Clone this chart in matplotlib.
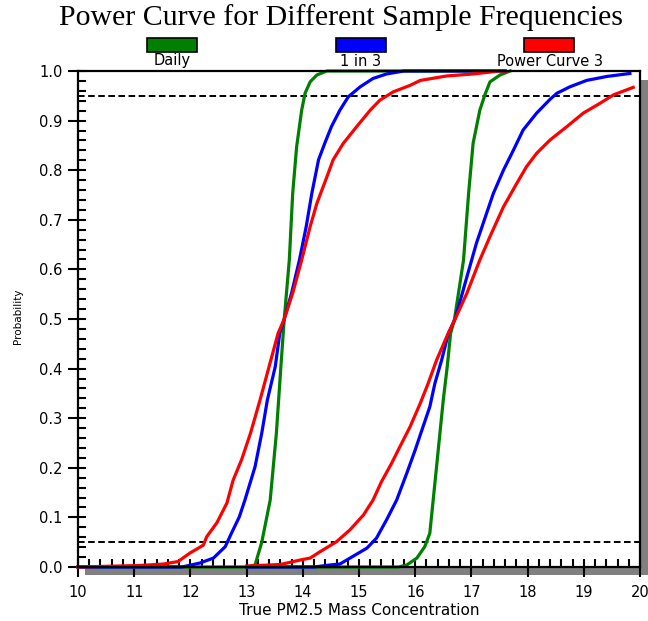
import matplotlib.pyplot as plt
from matplotlib.patches import Rectangle
from matplotlib.ticker import MultipleLocator

# Daily sampling - two curves (low and high true concentration)
daily_x1 = [10.0, 13.0, 13.15, 13.27, 13.42, 13.53, 13.61, 13.67, 13.76, 13.82, 13.89, 13.98,
            14.04, 14.13, 14.25, 14.43, 17.6]
daily_y1 = [0.0, 0.0, 0.004, 0.05, 0.135, 0.27, 0.404, 0.5, 0.619, 0.753, 0.847, 0.921,
            0.955, 0.978, 0.992, 1.0, 1.0]
daily_x2 = [13.0, 15.7, 15.85, 16.03, 16.17, 16.26, 16.32, 16.38, 16.44, 16.50, 16.57, 16.63,
            16.70, 16.86, 16.95, 17.03, 17.15, 17.24, 17.33, 17.51, 17.69]
daily_y2 = [0.0, 0.0, 0.004, 0.018, 0.041, 0.068, 0.135, 0.202, 0.27, 0.337, 0.404, 0.471,
            0.5, 0.619, 0.753, 0.854, 0.921, 0.952, 0.978, 0.992, 1.0]

# 1 in 3 day sampling
one3_x1 = [10.0, 11.85, 12.17, 12.41, 12.62, 12.73, 12.87, 12.97, 13.15, 13.27, 13.37, 13.51,
           13.59, 13.67, 13.80, 13.94, 14.06, 14.16, 14.28, 14.39, 14.51, 14.66, 14.81, 15.02,
           15.25, 15.49, 15.8, 17.6]
one3_y1 = [0.0, 0.0, 0.008, 0.018, 0.041, 0.068, 0.101, 0.135, 0.202, 0.27, 0.337, 0.404,
           0.471, 0.5, 0.552, 0.619, 0.686, 0.753, 0.821, 0.854, 0.888, 0.921, 0.948, 0.968,
           0.985, 0.994, 1.0, 1.0]
one3_x2 = [13.0, 14.2, 14.48, 14.66, 14.84, 15.14, 15.31, 15.49, 15.67, 15.85, 16.0, 16.14,
           16.26, 16.35, 16.47, 16.59, 16.71, 16.92, 17.09, 17.27, 17.39, 17.57, 17.75, 17.92,
           18.16, 18.40, 18.52, 18.75, 19.05, 19.41, 19.82]
one3_y2 = [0.0, 0.0, 0.004, 0.006, 0.018, 0.038, 0.058, 0.095, 0.135, 0.189, 0.236, 0.283,
           0.323, 0.37, 0.417, 0.471, 0.5, 0.585, 0.653, 0.713, 0.753, 0.80, 0.841, 0.881,
           0.915, 0.943, 0.955, 0.968, 0.981, 0.989, 0.995]

# Power curve 3
pc3_x1 = [10.0, 11.1, 11.52, 11.78, 11.99, 12.23, 12.29, 12.47, 12.65, 12.76, 12.91, 13.07,
          13.24, 13.40, 13.56, 13.67, 13.82, 13.98, 14.13, 14.25, 14.43, 14.54, 14.72, 14.96,
          15.20, 15.37, 15.61, 15.91, 16.09, 16.56, 17.03, 17.5, 17.6]
pc3_y1 = [0.0, 0.003, 0.006, 0.011, 0.028, 0.044, 0.061, 0.089, 0.129, 0.175, 0.216, 0.27,
          0.337, 0.404, 0.471, 0.5, 0.552, 0.619, 0.686, 0.733, 0.787, 0.821, 0.854, 0.888,
          0.921, 0.941, 0.958, 0.971, 0.981, 0.99, 0.994, 1.0, 1.0]
pc3_x2 = [13.0, 13.6, 13.95, 14.13, 14.31, 14.60, 14.84, 15.08, 15.25, 15.40, 15.58, 15.73,
          15.91, 16.09, 16.23, 16.38, 16.56, 16.71, 16.92, 17.15, 17.33, 17.57, 17.81, 17.98,
          18.16, 18.40, 18.70, 18.99, 19.29, 19.53, 19.88]
pc3_y2 = [0.002, 0.005, 0.014, 0.018, 0.031, 0.051, 0.075, 0.105, 0.135, 0.172, 0.209, 0.243,
          0.283, 0.33, 0.37, 0.417, 0.464, 0.5, 0.552, 0.619, 0.666, 0.726, 0.774, 0.807,
          0.834, 0.861, 0.888, 0.915, 0.935, 0.952, 0.967]

labels = ['Daily', '1 in 3', 'Power Curve 3']
colors = ['#008000', '#0000ff', '#ff0000']
limits = [0.05, 0.95]

W, H = 648, 621
fig = plt.figure(figsize=(W / 100, H / 100), dpi=100)
ax = fig.add_axes([78 / W, 1 - 567 / H, 562 / W, 496 / H])

# drop shadow behind the plot area
shadow = Rectangle((85 / W, 1 - 575 / H), 570 / W, 495 / H, transform=fig.transFigure,
                   facecolor='#808080', edgecolor='none', zorder=-1)
fig.add_artist(shadow)

curves = [(daily_x1, daily_y1, daily_x2, daily_y2),
          (one3_x1, one3_y1, one3_x2, one3_y2),
          (pc3_x1, pc3_y1, pc3_x2, pc3_y2)]
for (x1, y1, x2, y2), c in zip(curves, colors):
    ax.plot(x1, y1, color=c, lw=2.3, solid_joinstyle='round', zorder=3, clip_on=False)
    ax.plot(x2, y2, color=c, lw=2.3, solid_joinstyle='round', zorder=3, clip_on=False)

for lev in limits:
    ax.axhline(lev, color='black', lw=1.4, linestyle=(0, (3.4, 1.8)), zorder=2)

ax.set_xlim(10, 20)
ax.set_ylim(0, 1)
ax.xaxis.set_major_locator(MultipleLocator(1))
ax.xaxis.set_minor_locator(MultipleLocator(0.2))
ax.yaxis.set_major_locator(MultipleLocator(0.1))
ax.yaxis.set_minor_locator(MultipleLocator(0.02))
ax.xaxis.remove_overlapping_locs = False
ax.yaxis.remove_overlapping_locs = False
ax.yaxis.set_major_formatter(plt.FormatStrFormatter('%.1f'))
ax.tick_params(which='major', direction='out', length=7, width=1.5, labelsize=10.5,
               top=False, right=False)
ax.tick_params(axis='x', which='major', pad=6)
ax.tick_params(axis='y', which='major', pad=4)
ax.tick_params(which='minor', direction='in', length=6, width=1.5, top=False, right=False)
for sp in ax.spines.values():
    sp.set_linewidth(1.6)
    sp.set_zorder(4)

ax.set_xlabel('True PM2.5 Mass Concentration', fontsize=11, labelpad=2)
fig.text(18 / W, 1 - 316 / H, 'Probability', rotation=90, fontsize=7.5,
         ha='center', va='center')

fig.text(341 / W, 1 - 18 / H, 'Power Curve for Different Sample Frequencies',
         family='Liberation Serif', fontsize=21.5, ha='center', va='center')

# legend: coloured boxes with labels underneath
box_left = [147, 336, 524]
label_x = [172, 361, 550]
for bx, lx, c, lab in zip(box_left, label_x, colors, labels):
    fig.add_artist(Rectangle((bx / W, 1 - 52 / H), 50 / W, 14 / H, transform=fig.transFigure,
                             facecolor=c, edgecolor='black', lw=1.2))
    fig.text(lx / W, 1 - 61 / H, lab, fontsize=10.5, ha='center', va='center')

fig.savefig('out.png', dpi=100)
